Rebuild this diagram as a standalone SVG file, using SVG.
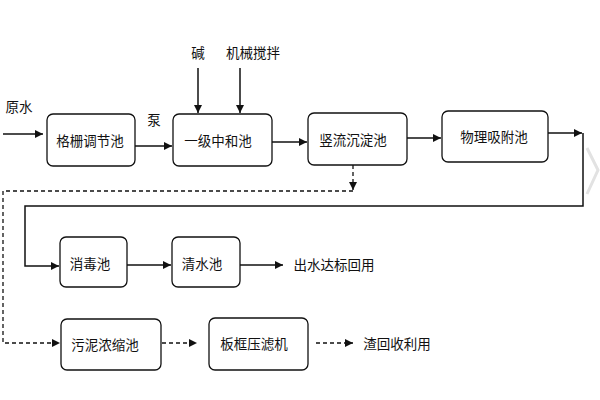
<svg xmlns="http://www.w3.org/2000/svg" width="600" height="400" viewBox="0 0 600 400">
<style>
.box{fill:#fff;stroke:#111;stroke-width:1.3}
.t{font-family:"Noto Sans CJK SC","Liberation Sans",sans-serif;font-size:13.5px;fill:#111;text-anchor:middle;dominant-baseline:central}
.l{fill:none;stroke:#111;stroke-width:1.5}
.d{fill:none;stroke:#111;stroke-width:1.3;stroke-dasharray:4 3}
</style>
<defs>
<marker id="a" viewBox="0 0 10 10" refX="10" refY="5" markerWidth="8" markerHeight="8" markerUnits="userSpaceOnUse" orient="auto"><path d="M0,0L10,5L0,10z" fill="#111"/></marker>
</defs>
<rect width="600" height="400" fill="#fff"/>
<polyline points="587,148 598,170 587,194" fill="none" stroke="#e2e2e2" stroke-width="3"/>
<g id="labels">
<text class="t" x="19" y="106">原水</text>
<text class="t" x="154" y="119">泵</text>
<text class="t" x="198" y="52">碱</text>
<text class="t" x="253" y="52">机械搅拌</text>
<text class="t" x="334" y="264">出水达标回用</text>
<text class="t" x="397" y="343">渣回收利用</text>
</g>
<g id="n1"><rect class="box" x="47" y="114" width="88" height="52" rx="6"/><text class="t" x="90" y="140">格栅调节池</text></g>
<g id="n2"><rect class="box" x="173" y="114" width="99" height="52" rx="6"/><text class="t" x="218" y="140">一级中和池</text></g>
<g id="n3"><rect class="box" x="308" y="113" width="99" height="52" rx="6"/><text class="t" x="353" y="139">竖流沉淀池</text></g>
<g id="n4"><rect class="box" x="442" y="111" width="106" height="51" rx="6"/><text class="t" x="494" y="136">物理吸附池</text></g>
<g id="n5"><rect class="box" x="60" y="237" width="67" height="50" rx="6"/><text class="t" x="90" y="263">消毒池</text></g>
<g id="n6"><rect class="box" x="172" y="237" width="68" height="50" rx="6"/><text class="t" x="202" y="263">清水池</text></g>
<g id="n7"><rect class="box" x="61" y="319" width="100" height="51" rx="6"/><text class="t" x="105" y="344">污泥浓缩池</text></g>
<g id="n8"><rect class="box" x="209" y="318" width="99" height="52" rx="6"/><text class="t" x="254" y="343">板框压滤机</text></g>
<g id="connectors">
<path class="l" d="M3,134H43" marker-end="url(#a)"/>
<path class="l" d="M135,146H172" marker-end="url(#a)"/>
<path class="l" d="M198,68V113" marker-end="url(#a)"/>
<path class="l" d="M240,68V113" marker-end="url(#a)"/>
<path class="l" d="M272,142H307" marker-end="url(#a)"/>
<path class="l" d="M407,138H441" marker-end="url(#a)"/>
<path class="l" d="M548,133H582" marker-end="url(#a)"/>
<path class="l" d="M583,133V206H25V266H59" marker-end="url(#a)"/>
<path class="l" d="M127,265H171" marker-end="url(#a)"/>
<path class="l" d="M240,265H283" marker-end="url(#a)"/>
<path class="d" d="M353,165V190" marker-end="url(#a)"/>
<path class="d" d="M353,191H3V343H60" marker-end="url(#a)"/>
<path class="d" d="M162,343H197" marker-end="url(#a)"/>
<path class="d" d="M316,343H353" marker-end="url(#a)"/>
</g>
</svg>
